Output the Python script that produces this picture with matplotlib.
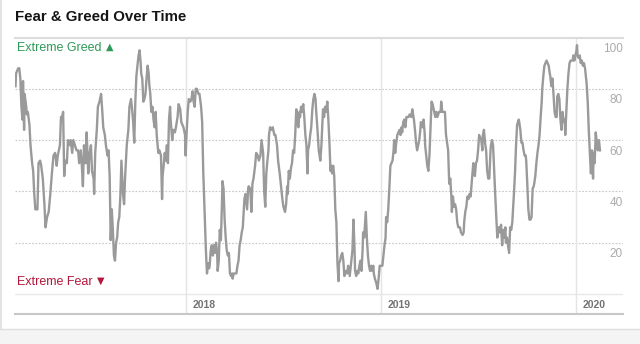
import pandas as pd
import matplotlib
matplotlib.use('Agg')
import matplotlib.pyplot as plt
from matplotlib.patches import Rectangle
from matplotlib.lines import Line2D

plt.rcParams['font.family'] = ['Liberation Sans', 'DejaVu Sans']

# index readings: day offset from start, value 0-100
start = '2017-02-15'
end = '2020-03-28'
days = [
    1, 2, 6, 8, 10, 12, 14, 15, 17, 18,
    21, 22, 24, 27, 29, 32, 34, 36, 38, 42,
    44, 47, 49, 52, 55, 57, 60, 63, 66, 69,
    72, 75, 78, 80, 84, 86, 88, 90, 92, 94,
    97, 99, 102, 104, 107, 109, 112, 115, 118, 120,
    123, 125, 127, 129, 132, 134, 137, 139, 142, 144,
    147, 148, 150, 153, 155, 158, 161, 163, 165, 168,
    170, 173, 175, 177, 178, 179, 181, 183, 185, 187,
    189, 191, 193, 195, 197, 199, 202, 204, 206, 209,
    212, 214, 217, 219, 221, 223, 225, 227, 229, 231,
    233, 235, 236, 238, 240, 242, 244, 246, 248, 250,
    251, 253, 255, 257, 259, 261, 263, 265, 268, 270,
    273, 275, 276, 278, 280, 282, 284, 286, 288, 290,
    291, 294, 296, 299, 301, 304, 306, 309, 311, 315,
    318, 319, 321, 323, 325, 328, 330, 332, 334, 336,
    338, 340, 343, 345, 348, 350, 352, 355, 357, 359,
    361, 363, 364, 366, 368, 370, 372, 374, 376, 378,
    379, 381, 383, 385, 387, 388, 390, 392, 394, 396,
    398, 400, 402, 404, 406, 407, 409, 411, 414, 416,
    418, 420, 422, 424, 426, 429, 431, 434, 436, 437,
    440, 442, 444, 446, 449, 451, 454, 456, 459, 461,
    464, 466, 468, 470, 472, 474, 475, 477, 480, 482,
    485, 487, 490, 492, 495, 497, 500, 502, 505, 507,
    509, 510, 512, 514, 516, 518, 520, 522, 524, 526,
    528, 530, 532, 533, 535, 537, 539, 541, 543, 545,
    547, 548, 550, 552, 554, 556, 558, 560, 562, 563,
    566, 568, 571, 573, 575, 576, 578, 580, 582, 584,
    586, 588, 590, 591, 593, 595, 597, 599, 601, 603,
    605, 606, 608, 610, 612, 614, 616, 618, 621, 623,
    626, 628, 631, 633, 635, 636, 638, 640, 642, 644,
    646, 648, 650, 651, 653, 655, 656, 658, 660, 662,
    664, 666, 668, 670, 671, 673, 676, 678, 680, 682,
    685, 687, 689, 691, 693, 694, 696, 698, 700, 702,
    704, 706, 708, 709, 711, 713, 715, 717, 719, 721,
    723, 724, 726, 728, 730, 732, 734, 736, 738, 741,
    743, 746, 748, 750, 752, 754, 756, 758, 759, 762,
    764, 766, 767, 769, 771, 773, 775, 777, 779, 781,
    783, 786, 788, 790, 793, 796, 797, 799, 802, 804,
    806, 808, 810, 812, 814, 816, 817, 819, 821, 823,
    825, 827, 829, 832, 834, 837, 839, 840, 842, 844,
    846, 848, 850, 852, 854, 855, 857, 859, 860, 862,
    864, 866, 868, 870, 872, 874, 875, 877, 879, 881,
    883, 885, 887, 889, 890, 892, 894, 896, 898, 900,
    902, 904, 905, 907, 909, 911, 913, 915, 917, 918,
    920, 922, 924, 926, 928, 930, 932, 933, 935, 937,
    939, 942, 943, 945, 947, 949, 951, 953, 955, 956,
    958, 960, 962, 964, 966, 968, 970, 971, 973, 975,
    977, 979, 981, 983, 985, 986, 988, 990, 992, 994,
    996, 998, 1000, 1001, 1003, 1005, 1007, 1009, 1011, 1013,
    1014, 1016, 1018, 1020, 1022, 1024, 1026, 1028, 1029, 1031,
    1033, 1035, 1037, 1039, 1041, 1043, 1044, 1046, 1048, 1050,
    1051, 1052, 1054, 1056, 1058, 1060, 1062, 1064, 1066, 1067,
    1069, 1071, 1073, 1075, 1077, 1079, 1081, 1082, 1084, 1086,
    1088, 1090, 1092, 1094,
]
greed = [
    81, 86, 88, 88, 84, 73, 68, 83, 64, 78,
    73, 70, 71, 66, 58, 51, 48, 39, 33, 33,
    51, 52, 50, 45, 35, 26, 30, 32, 39, 47,
    54, 55, 50, 54, 58, 69, 69, 71, 46, 52,
    51, 60, 58, 60, 55, 60, 58, 56, 56, 51,
    56, 50, 42, 58, 51, 63, 47, 54, 58, 48,
    45, 39, 55, 64, 73, 75, 78, 72, 65, 62,
    58, 54, 56, 46, 33, 21, 33, 25, 15, 13,
    20, 22, 28, 30, 38, 52, 39, 35, 46, 58,
    64, 73, 76, 72, 67, 59, 75, 85, 89, 93,
    95, 90, 86, 84, 75, 76, 78, 84, 89, 86,
    82, 78, 71, 73, 68, 65, 71, 62, 55, 56,
    54, 37, 46, 50, 55, 52, 58, 51, 68, 73,
    68, 60, 64, 63, 65, 69, 74, 72, 67, 65,
    62, 54, 63, 71, 76, 75, 76, 79, 75, 73,
    80, 80, 78, 78, 73, 67, 48, 29, 17, 8,
    12, 10, 11, 17, 19, 15, 19, 16, 20, 16,
    9, 13, 25, 21, 35, 44, 41, 29, 22, 17,
    15, 16, 8, 7, 8, 6, 8, 8, 8, 11,
    13, 19, 21, 24, 26, 37, 39, 33, 41, 42,
    41, 32, 43, 45, 50, 55, 54, 52, 54, 60,
    55, 40, 34, 47, 52, 56, 62, 65, 64, 65,
    62, 62, 58, 52, 47, 43, 37, 34, 32, 35,
    42, 39, 48, 45, 49, 51, 56, 55, 62, 72,
    67, 65, 71, 69, 73, 71, 74, 69, 62, 58,
    47, 56, 58, 62, 65, 72, 76, 78, 76, 72,
    63, 56, 52, 58, 67, 72, 69, 73, 71, 75,
    68, 59, 48, 50, 47, 50, 46, 33, 28, 12,
    5, 12, 13, 15, 16, 13, 7, 9, 8, 11,
    7, 11, 17, 29, 17, 9, 7, 9, 8, 11,
    13, 9, 17, 24, 22, 29, 32, 22, 15, 11,
    9, 11, 9, 11, 8, 6, 4, 2, 6, 11,
    11, 11, 15, 19, 22, 30, 28, 33, 41, 50,
    51, 52, 56, 60, 55, 59, 62, 63, 64, 62,
    65, 63, 67, 68, 65, 69, 69, 69, 70, 69,
    72, 68, 64, 59, 56, 58, 60, 64, 67, 65,
    68, 63, 58, 54, 50, 48, 54, 64, 75, 74,
    72, 69, 71, 69, 71, 71, 75, 71, 71, 71,
    62, 59, 56, 43, 45, 38, 32, 38, 34, 35,
    33, 28, 26, 26, 24, 23, 24, 28, 32, 34,
    38, 37, 39, 38, 43, 46, 51, 48, 46, 51,
    52, 56, 62, 61, 60, 56, 62, 64, 59, 56,
    48, 45, 45, 55, 58, 60, 58, 48, 39, 30,
    22, 25, 26, 24, 27, 19, 25, 22, 26, 20,
    22, 19, 16, 26, 25, 28, 35, 39, 47, 58,
    66, 68, 67, 64, 59, 59, 56, 54, 54, 52,
    43, 33, 29, 29, 30, 41, 42, 43, 46, 51,
    55, 58, 62, 69, 75, 80, 85, 89, 90, 91,
    90, 89, 86, 85, 81, 84, 78, 71, 69, 69,
    77, 78, 76, 68, 64, 71, 67, 68, 62, 71,
    80, 86, 90, 91, 91, 91, 93, 91, 93, 95,
    97, 93, 92, 93, 90, 91, 89, 90, 88, 86,
    82, 75, 64, 55, 47, 56, 45, 55, 51, 63,
    59, 56, 60, 56,
]
years = ['2018', '2019', '2020']
grid_levels = [20, 40, 60, 80]
tick_levels = [20, 40, 60, 80, 100]

dates = pd.Timestamp(start) + pd.to_timedelta(days, unit='D')

fig = plt.figure(figsize=(6.4, 3.44), dpi=100)
fig.patch.set_facecolor('white')

# card edge and the grey strip below it
fig.add_artist(Rectangle((0, 0), 1, 15 / 344, transform=fig.transFigure,
                         facecolor='#f4f4f4', edgecolor='none'))
fig.add_artist(Line2D([0, 1], [15 / 344] * 2, transform=fig.transFigure,
                      color='#dedede', lw=1))
fig.add_artist(Line2D([1 / 640] * 2, [15 / 344, 1], transform=fig.transFigure,
                      color='#dedede', lw=1.2))

fig.text(15 / 640, 1 - 17 / 344, 'Fear & Greed Over Time', fontsize=10.8,
         fontweight='bold', va='center', color='#151515')

ax = fig.add_axes([15 / 640, 30 / 344, 608 / 640, 276 / 344])
ax.set_xlim(pd.Timestamp(start), pd.Timestamp(end))
ax.set_ylim(-7.8, 99.8)

for lvl in grid_levels:
    ax.axhline(lvl, color='#c6c6c6', lw=0.8, ls=(0, (1.5, 1.5)), zorder=0)
ax.axhline(0, color='#e8e8e8', lw=1, zorder=0)

for y in years:
    t = pd.Timestamp(y + '-01-01')
    ax.axvline(t, color='#e4e4e4', lw=1, zorder=0)
    ax.annotate(y, (t, -4.3), xytext=(4.5, 0), textcoords='offset points',
                va='center', fontsize=7.5, color='#737373', fontweight='bold')

ax.plot(dates, greed, color='#9a9a9a', lw=1.7, solid_joinstyle='round', zorder=3)

for lvl in tick_levels:
    ax.text(1.0, lvl - 4.5, str(lvl), transform=ax.get_yaxis_transform(),
            ha='right', va='center', fontsize=8.5, color='#ababab')

greed_lbl = ax.text(0.003, 96, 'Extreme Greed', transform=ax.get_yaxis_transform(),
                    color='#2f9a58', fontsize=9, va='center')
ax.annotate('\u25b2', xy=(1, 0.5), xycoords=greed_lbl, xytext=(3.5, 0.5),
            textcoords='offset points', color='#2f9a58', fontsize=7,
            va='center', family=['DejaVu Sans'])
fear_lbl = ax.text(0.003, 4.7, 'Extreme Fear', transform=ax.get_yaxis_transform(),
                   color='#b3173a', fontsize=9, va='center')
ax.annotate('\u25bc', xy=(1, 0.5), xycoords=fear_lbl, xytext=(3.5, 0.5),
            textcoords='offset points', color='#b3173a', fontsize=7,
            va='center', family=['DejaVu Sans'])

ax.set_xticks([])
ax.set_yticks([])
for side in ['left', 'right']:
    ax.spines[side].set_visible(False)
ax.spines['top'].set_color('#dcdcdc')
ax.spines['top'].set_linewidth(1.5)
ax.spines['bottom'].set_color('#c8c8c8')
ax.spines['bottom'].set_linewidth(1.5)

fig.savefig('out.png', dpi=100)
